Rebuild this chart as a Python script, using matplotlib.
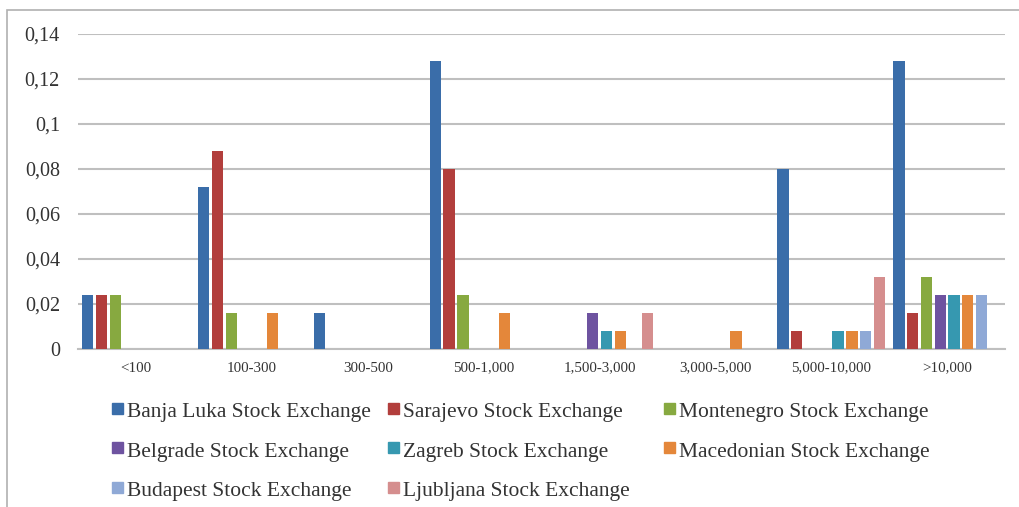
import numpy as np
import matplotlib.pyplot as plt
from matplotlib.patches import Rectangle

# Kategorier og serier
categories = ["<100", "100-300", "300-500", "500-1,000", "1,500-3,000",
              "3,000-5,000", "5,000-10,000", ">10,000"]
series_names = ["Banja Luka Stock Exchange", "Sarajevo Stock Exchange",
                "Montenegro Stock Exchange", "Belgrade Stock Exchange",
                "Zagreb Stock Exchange", "Macedonian Stock Exchange",
                "Budapest Stock Exchange", "Ljubljana Stock Exchange"]

banja_luka = [0.024, 0.072, 0.016, 0.128, 0, 0, 0.080, 0.128]
sarajevo = [0.024, 0.088, 0, 0.080, 0, 0, 0.008, 0.016]
montenegro = [0.024, 0.016, 0, 0.024, 0, 0, 0, 0.032]
belgrade = [0, 0, 0, 0, 0.016, 0, 0, 0.024]
zagreb = [0, 0, 0, 0, 0.008, 0, 0.008, 0.024]
macedonian = [0, 0.016, 0, 0.016, 0.008, 0.008, 0.008, 0.024]
budapest = [0, 0, 0, 0, 0, 0, 0.008, 0.024]
ljubljana = [0, 0, 0, 0, 0.016, 0, 0.032, 0]

colors = ["#3A6DA9", "#B23E3C", "#87A940", "#6E53A0",
          "#3698B0", "#E4873A", "#8FA9D6", "#D58E8E"]

all_series = [banja_luka, sarajevo, montenegro, belgrade,
              zagreb, macedonian, budapest, ljubljana]

plt.rcParams["font.family"] = ["Liberation Serif", "DejaVu Serif"]

W, H = 1020, 507
fig = plt.figure(figsize=(W / 100, H / 100), dpi=100)
ax = fig.add_axes([78 / W, 1 - 349 / H, 927 / W, 315 / H])

x = np.arange(len(categories))
step = 0.119
width = 0.098
for i, (name, vals) in enumerate(zip(series_names, all_series)):
    ax.bar(x - 0.5 + 0.035 + width / 2 + i * step, vals, width,
           color=colors[i], label=name, zorder=3)

ax.set_xlim(-0.5, len(categories) - 0.5)
ax.set_ylim(0, 0.14)
ax.set_yticks(np.arange(0, 0.141, 0.02))
ax.set_yticklabels(["0"] + [f"{v:.2f}".replace(".", ",").rstrip("0") for v in np.arange(0.02, 0.141, 0.02)],
                   fontsize=14.5)
ax.set_xticks(x)
ax.set_xticklabels(categories, fontsize=10.8)
ax.tick_params(axis="both", length=0, colors="#333333")
ax.tick_params(axis="y", pad=13)
ax.tick_params(axis="x", pad=9)
ax.yaxis.grid(True, color="#BFBFBF", linewidth=1.5, zorder=0)
for side in ["top", "right", "left"]:
    ax.spines[side].set_visible(False)
ax.spines["bottom"].set_color("#BFBFBF")
ax.spines["bottom"].set_linewidth(1.5)

# Tegnforklaring, radvis som i Excel (3 kolonner)
for i, name in enumerate(series_names):
    row, col = divmod(i, 3)
    x0 = 112 + 276 * col
    y0 = 408 + 39.5 * row
    fig.patches.append(Rectangle((x0 / W, 1 - (y0 + 5.5) / H), 11 / W, 11 / H,
                                 transform=fig.transFigure, color=colors[i]))
    fig.text((x0 + 15) / W, 1 - (y0 + 9) / H, name, fontsize=15.5,
             color="#333333", va="baseline", ha="left")

# Ramme rundt figuren
fig.patches.append(Rectangle((7 / W, -0.01), 1.0, 1 - 10 / H + 0.01,
                             transform=fig.transFigure, fill=False,
                             edgecolor="#B0B0B0", linewidth=1.2))

fig.savefig("out.png", dpi=100)
